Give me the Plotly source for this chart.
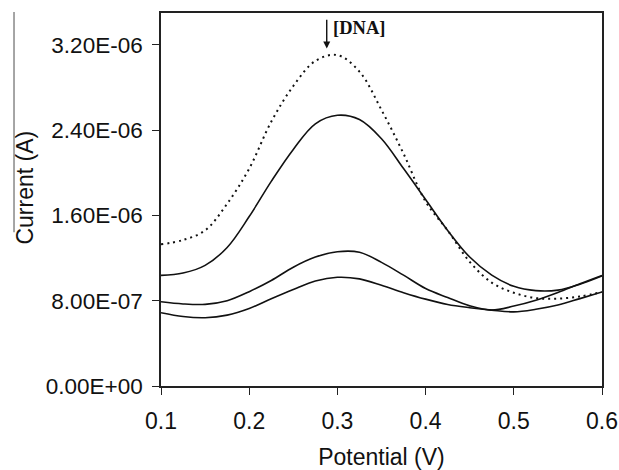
import plotly.graph_objects as go

# Potential (V)
potential = [0.100, 0.125, 0.150, 0.175, 0.200, 0.225, 0.250, 0.275, 0.300, 0.325,
             0.350, 0.375, 0.400, 0.425, 0.450, 0.475, 0.500, 0.525, 0.550, 0.575, 0.600]

# Currents in microamps (converted to A below)
curve_dotted_uA = [1.329, 1.370, 1.460, 1.710, 2.040, 2.480, 2.815, 3.050, 3.105, 2.950,
                   2.590, 2.180, 1.730, 1.460, 1.165, 0.970, 0.875, 0.825, 0.820, 0.840, 0.882]
curve_b_uA = [1.038, 1.060, 1.132, 1.300, 1.590, 1.920, 2.220, 2.460, 2.540, 2.500,
              2.320, 2.040, 1.750, 1.460, 1.210, 1.040, 0.935, 0.895, 0.900, 0.955, 1.033]
curve_c_uA = [0.790, 0.770, 0.766, 0.800, 0.885, 0.990, 1.115, 1.210, 1.260, 1.255,
              1.160, 1.040, 0.915, 0.830, 0.752, 0.712, 0.750, 0.805, 0.878, 0.960, 1.038]
curve_d_uA = [0.688, 0.652, 0.641, 0.665, 0.727, 0.818, 0.905, 0.985, 1.020, 1.005,
              0.945, 0.876, 0.815, 0.765, 0.735, 0.712, 0.696, 0.720, 0.760, 0.820, 0.882]

y_tick_vals = [0, 0.8e-6, 1.6e-6, 2.4e-6, 3.2e-6]
y_tick_text = ["0.00E+00", "8.00E-07", "1.60E-06", "2.40E-06", "3.20E-06"]
x_tick_vals = [0.1, 0.2, 0.3, 0.4, 0.5, 0.6]
x_tick_text = ["0.1", "0.2", "0.3", "0.4", "0.5", "0.6"]

def to_A(vals):
    return [v * 1e-6 for v in vals]

fig = go.Figure()
fig.add_trace(go.Scatter(x=potential, y=to_A(curve_dotted_uA), mode="lines",
                         line=dict(color="#111111", width=2, dash="2px,4px", shape="spline")))
for ys in (curve_b_uA, curve_c_uA, curve_d_uA):
    fig.add_trace(go.Scatter(x=potential, y=to_A(ys), mode="lines",
                             line=dict(color="#111111", width=1.6, shape="spline")))

font_sans = "Liberation Sans, Arial, sans-serif"

fig.update_layout(
    width=619, height=470,
    margin=dict(l=161, r=17, t=13, b=84, autoexpand=False),
    paper_bgcolor="white", plot_bgcolor="white",
    showlegend=False,
    font=dict(family=font_sans, size=23, color="#111111"),
    xaxis=dict(range=[0.1, 0.6], tickvals=x_tick_vals, ticktext=x_tick_text,
               automargin=False,
               showgrid=False, zeroline=False, showline=True, linecolor="#222222",
               linewidth=1.6, mirror=True, ticks="outside", ticklen=7, tickwidth=1.3,
               tickcolor="#222222", tickfont=dict(size=23), ticklabelstandoff=7,
               title=dict(text="Potential (V)", font=dict(size=23), standoff=16)),
    yaxis=dict(range=[0, 3.5e-6], tickvals=y_tick_vals, ticktext=y_tick_text,
               automargin=False,
               showgrid=False, zeroline=False, showline=True, linecolor="#222222",
               linewidth=1.6, mirror=True, ticks="outside", ticklen=7, tickwidth=1.3,
               tickcolor="#222222", tickfont=dict(size=22.5), ticklabelstandoff=5),
)

# y-axis title placed as in the source (slightly above the axis centre)
fig.add_annotation(x=-0.3075, y=0.533, xref="paper", yref="paper", showarrow=False,
                   text="Current (A)", textangle=-90, xanchor="center", yanchor="middle",
                   font=dict(family=font_sans, size=23, color="#111111"))

# arrow marking the DNA addition direction
fig.add_annotation(x=0.2879, y=3.167e-6, ax=0.2879, ay=3.45e-6, xref="x", yref="y",
                   axref="x", ayref="y", showarrow=True, arrowhead=2, arrowsize=1,
                   arrowwidth=1.4, arrowcolor="#111111", text="")
fig.add_annotation(x=0.2925, y=3.355e-6, xref="x", yref="y", showarrow=False,
                   text="<b>[DNA]</b>", xanchor="left", yanchor="middle",
                   font=dict(family="Liberation Serif, Times New Roman, serif", size=18.5,
                             color="#111111"))

# stray vertical rule seen at the left edge of the source image
fig.add_shape(type="line", xref="paper", yref="paper",
              x0=-0.3333, x1=-0.3333, y0=0.4124, y1=1.0027,
              line=dict(color="#888888", width=1.5))

fig.write_html("out.html")
